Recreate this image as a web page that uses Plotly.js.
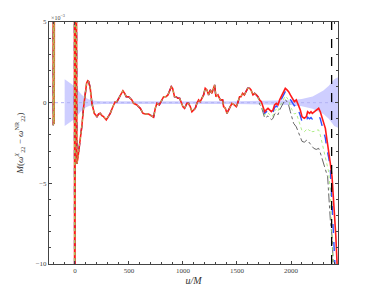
<!DOCTYPE html>
<html><head><meta charset="utf-8">
<script src="https://cdn.plot.ly/plotly-3.0.1.min.js"></script>
<style>html,body{margin:0;padding:0;background:#fff}#c{width:374px;height:298px}</style>
</head><body><div id="c"></div>
<script>
// Shared part (all approximants coincide), u/M and value (x1e-3)
const uCommon = [-205,-200,-196,-192,-186,-6,-2,6,18,28,45,65,80,95,108,118,128,142,157,179,204,220,234,250,265,290,311,327,351,373,389,404,420,444,460,475,497,527,543,574,589,605,630,651,682,713,728,744,759,781,799,821,843,861,873,892,904,922,935,954,969,984,1000,1015,1037,1052,1068,1083,1098,1114,1129,1145,1160,1176,1191,1206,1222,1237,1253,1268,1284,1293,1305,1324,1345,1367,1376,1392,1407,1422,1438,1453,1475,1494,1506,1524,1537,1552,1568,1586,1599,1617,1630,1648,1663,1679,1694];
const yCommon = [30,-1.4,30,-1.3,30,30,-30,30,-3.8,-3.4,-2.6,-1.4,-0.3,0.6,1.2,1.36,1.3,0.89,-0.04,-0.66,-0.87,-0.7,-0.66,-0.8,-0.87,-1.07,-0.87,-0.66,-0.25,0.06,0.06,0.27,0.48,0.74,0.58,0.37,0.37,0.17,-0.04,-0.14,-0.25,-0.35,-0.66,-0.7,-0.7,-0.87,-0.9,-0.35,-0.04,-0.14,0.06,0.37,0.37,0.48,0.68,0.99,0.89,0.37,0.37,0.27,0.27,0.06,-0.25,-0.35,-0.04,-0.04,-0.25,-0.56,-0.45,-0.35,-0.04,0.17,0.06,0.27,0.48,0.89,0.79,0.48,0.79,0.58,0.99,1.1,0.37,0.48,0.17,0.17,-0.25,-0.35,-0.66,-0.45,-0.25,-0.04,-0.14,-0.25,-0.04,0.37,0.37,0.58,0.48,0.68,0.89,0.89,0.79,0.48,0.58,0.48,0.37];

// Diverging tails
const uRed = [1709,1725,1741,1756,1771,1787,1802,1818,1833,1848,1864,1879,1895,1917,1932,1947,1963,1978,1994,2009,2031,2049,2065,2086,2102,2123,2142,2154,2172,2185,2197,2216,2234,2256,2271,2296,2318,2333,2349,2364,2380,2400,2415,2430];
const yRed = [0.17,0.06,-0.25,-0.56,-0.45,-0.35,-0.45,-0.56,-0.45,-0.14,-0.04,-0.14,0.17,0.48,0.68,0.89,0.79,0.68,0.48,0.27,0.06,0.17,-0.1,-0.45,-0.87,-0.97,-0.87,-0.56,-0.66,-0.56,-0.66,-0.56,-0.45,-0.35,-0.56,-1.18,-1.59,-2.31,-2.93,-3.76,-4.6,-6.5,-8.3,-10.5];

const uBlue = [1709,1725,1741,1756,1771,1787,1802,1818,1833,1848,1864,1879,1895,1917,1932,1947,1963,1978,1994,2009,2031,2049,2065,2086,2102,2123,2142,2154,2172,2185,2197,2216,2234,2256,2271,2296,2318,2333,2349,2364,2380,2395,2410];
const yBlue = [0.1,-0.02,-0.35,-0.66,-0.57,-0.47,-0.58,-0.7,-0.6,-0.3,-0.2,-0.3,0.0,0.3,0.5,0.68,0.58,0.45,0.2,0.0,-0.2,-0.12,-0.4,-0.8,-1.18,-1.28,-1.18,-0.9,-1.0,-0.92,-1.02,-0.95,-0.85,-0.8,-1.0,-1.75,-2.2,-2.9,-3.4,-4.1,-6.0,-8.5,-10.5];

const uGreen = [1709,1725,1741,1756,1771,1787,1802,1818,1833,1848,1864,1879,1895,1917,1932,1947,1963,1978,1994,2009,2031,2049,2065,2086,2102,2123,2142,2154,2172,2185,2197,2216,2234,2256,2271,2296,2318,2339,2349,2364,2380,2390];
const yGreen = [0.0,-0.12,-0.45,-0.78,-0.7,-0.62,-0.75,-0.88,-0.8,-0.5,-0.42,-0.55,-0.25,0.05,0.25,0.42,0.3,0.15,-0.25,-0.45,-0.7,-0.65,-1.0,-1.49,-1.75,-1.8,-1.69,-1.6,-1.75,-1.65,-1.8,-1.78,-1.7,-1.69,-2.0,-2.8,-3.3,-3.97,-4.3,-5.5,-9.0,-10.5];

const uBlack = [1709,1725,1741,1756,1771,1787,1802,1818,1833,1848,1864,1879,1895,1917,1932,1947,1963,1978,1994,2009,2024,2049,2065,2086,2102,2123,2148,2172,2197,2210,2234,2256,2271,2302,2339,2364,2380,2395];
const yBlack = [-0.1,-0.25,-0.6,-0.95,-0.9,-0.82,-0.95,-1.05,-0.98,-0.7,-0.62,-0.75,-0.45,-0.15,0.06,0.2,0.05,-0.15,-0.56,-0.9,-1.28,-1.5,-1.8,-2.2,-2.4,-2.45,-2.31,-2.5,-2.7,-2.83,-2.9,-2.83,-3.1,-3.76,-4.59,-7.28,-8.3,-10.5];

// NR error band
const bandU = [-95,-60,-30,0,30,60,90,130,180,250,1500,1800,2000,2100,2200,2300,2350,2400,2440];
const bandUpper = [1.45,1.3,1.15,1.0,0.75,0.5,0.33,0.2,0.12,0.09,0.09,0.1,0.15,0.22,0.38,0.75,1.05,1.45,1.6];
const bandLower = [-1.45,-1.3,-1.15,-1.0,-0.75,-0.5,-0.33,-0.2,-0.12,-0.09,-0.09,-0.1,-0.15,-0.22,-0.38,-0.7,-1.0,-1.45,-1.57];

const mergerU = 2376;
const xTicks = [0,500,1000,1500,2000];
const yTicks = [-10,-5,0,5];
const yTickText = ['\u221210','\u22125','0','5'];

const cat = (a,b)=>a.concat(b);

const traces = [
  {x: bandU, y: bandLower, mode:'lines', line:{width:0}, hoverinfo:'skip', showlegend:false},
  {x: bandU, y: bandUpper, mode:'lines', line:{width:0}, fill:'tonexty', fillcolor:'rgba(190,190,255,0.75)', hoverinfo:'skip', showlegend:false},
  {x: [-240, 2440], y: [0, 0], mode:'lines', line:{color:'#b4b4f4', width:1, dash:'dot'}, showlegend:false},
  {x: cat(uCommon,uBlack), y: cat(yCommon,yBlack), mode:'lines', line:{color:'#555', width:0.9, dash:'dashdot'}, showlegend:false},
  {x: cat(uCommon,uBlue), y: cat(yCommon,yBlue), mode:'lines', line:{color:'#3050ff', width:1.4, dash:'dash'}, showlegend:false},
  {x: cat(uCommon,uRed), y: cat(yCommon,yRed), mode:'lines', line:{color:'#ff1a1a', width:1.6}, showlegend:false},
  {x: cat(uCommon,uGreen), y: cat(yCommon,yGreen), mode:'lines', line:{color:'#9be86a', width:0.8, dash:'dot'}, showlegend:false}
];

const tf = {family:'Liberation Serif, DejaVu Serif, serif', size:7, color:'#444'};
const layout = {
  width:374, height:298,
  margin:{l:49, r:36, t:22, b:34},
  paper_bgcolor:'#fff', plot_bgcolor:'#fff',
  showlegend:false,
  xaxis:{range:[-240,2435], tickvals:xTicks, ticks:'inside', ticklen:3, tickcolor:'#444', mirror:'ticks',
    showline:true, linecolor:'#444', linewidth:1, showgrid:false, zeroline:false, tickfont:tf,
    minor:{dtick:100, tick0:0, ticks:'inside', ticklen:2, tickcolor:'#444', showgrid:false},
    title:{text:'<i>u/M</i>', font:{family:'Liberation Serif, DejaVu Serif, serif', size:10, color:'#333'}, standoff:2}},
  yaxis:{range:[-10,5], tickvals:yTicks, ticktext:yTickText, ticks:'inside', ticklen:3, tickcolor:'#444', mirror:'ticks',
    showline:true, linecolor:'#444', linewidth:1, showgrid:false, zeroline:false, tickfont:tf,
    minor:{dtick:1, tick0:0, ticks:'inside', ticklen:2, tickcolor:'#444', showgrid:false},
    title:{text:'<i>M</i>(<i>ω</i><sup><i>X</i></sup><sub>22</sub> − <i>ω</i><sup>NR</sup><sub>22</sub>)', font:{family:'Liberation Serif, DejaVu Serif, serif', size:9, color:'#333'}, standoff:10}},
  shapes:[{type:'line', xref:'x', yref:'paper', x0:mergerU, x1:mergerU, y0:0, y1:1, line:{color:'#000', width:1.3, dash:'dash'}}],
  annotations:[{xref:'paper', yref:'paper', x:0, y:1, xanchor:'left', yanchor:'bottom', showarrow:false,
    text:'\u00d710<sup>\u22123</sup>', font:{family:'Liberation Serif, DejaVu Serif, serif', size:6, color:'#444'}, yshift:-1}]
};
Plotly.newPlot('c', traces, layout, {displayModeBar:false, staticPlot:true});
</script></body></html>
